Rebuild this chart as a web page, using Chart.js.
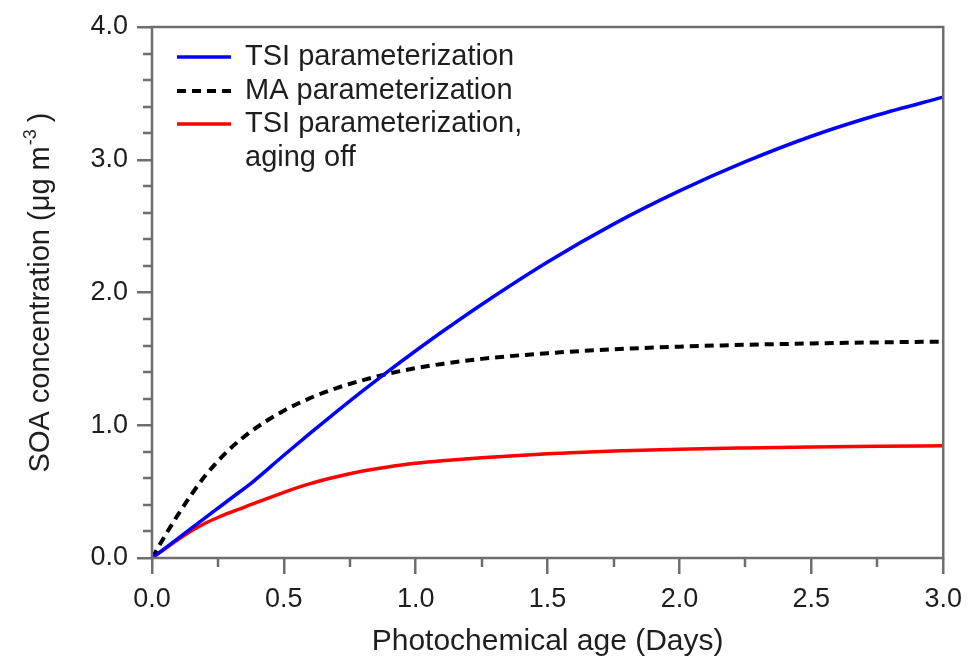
<!DOCTYPE html>
<html>
<head>
<meta charset="utf-8">
<script src="https://cdn.jsdelivr.net/npm/chart.js@4.4.1/dist/chart.umd.min.js"></script>
<style>
    html, body { margin: 0; padding: 0; background: #fff; }
    #wrap { width: 971px; height: 660px; }
</style>
</head>
<body>
<div id="wrap"><canvas id="soaChart" width="971" height="660"></canvas></div>
<script>
const days = [0, 0.05, 0.1, 0.15, 0.2, 0.25, 0.3, 0.38, 0.5, 0.6, 0.7, 0.8, 0.9, 1.0, 1.1, 1.25, 1.5, 1.75, 2.0, 2.25, 2.5, 2.75, 3.0];

// SOA concentration (ug m-3)
const tsiValues = [0, 0.075, 0.15, 0.225, 0.30, 0.375, 0.45, 0.57, 0.774, 0.94, 1.102, 1.26, 1.413, 1.561, 1.704, 1.91, 2.23, 2.515, 2.765, 2.985, 3.177, 3.337, 3.472];
const maValues = [0, 0.17, 0.33, 0.48, 0.615, 0.73, 0.83, 0.96, 1.11, 1.205, 1.28, 1.34, 1.39, 1.43, 1.462, 1.50, 1.543, 1.572, 1.592, 1.606, 1.616, 1.624, 1.63];
const tsiAgingOffValues = [0, 0.07, 0.14, 0.205, 0.26, 0.305, 0.345, 0.405, 0.495, 0.56, 0.612, 0.655, 0.688, 0.713, 0.732, 0.755, 0.785, 0.806, 0.82, 0.829, 0.836, 0.841, 0.845];

const seriesLabels = [['TSI parameterization'], ['MA parameterization'], ['TSI parameterization,', 'aging off']];

const xTickValues = [0, 0.5, 1.0, 1.5, 2.0, 2.5, 3.0];
const yTickValues = [0, 1.0, 2.0, 3.0, 4.0];
const xMinorTicks = [0.25, 0.75, 1.25, 1.75, 2.25, 2.75];
const yMinorTicks = [0.2, 0.4, 0.6, 0.8, 1.2, 1.4, 1.6, 1.8, 2.2, 2.4, 2.6, 2.8, 3.2, 3.4, 3.6, 3.8];

const xTitle = 'Photochemical age (Days)';
const yTitleMain = 'SOA concentration (\u03bcg m';
const yTitleSup = '-3';
const yTitleEnd = ' )';

const FONT = "'Liberation Sans', Arial, Helvetica, sans-serif";
const TEXT_COLOR = '#1e1e1e';
const AXIS_COLOR = '#6e6e6e';

const toPoints = (values) => days.map((d, i) => ({ x: d, y: values[i] }));

const decorPlugin = {
    id: 'decor',
    afterDraw(chart) {
        const { ctx, chartArea, scales } = chart;
        const { left, right, top, bottom } = chartArea;
        ctx.save();

        // minor ticks
        ctx.strokeStyle = AXIS_COLOR;
        ctx.lineWidth = 2.5;
        ctx.beginPath();
        xMinorTicks.forEach(v => {
            const px = Math.round(scales.x.getPixelForValue(v));
            ctx.moveTo(px, bottom);
            ctx.lineTo(px, bottom + 9);
        });
        yMinorTicks.forEach(v => {
            const py = Math.round(scales.y.getPixelForValue(v));
            ctx.moveTo(left, py);
            ctx.lineTo(left - 9, py);
        });
        ctx.stroke();

        // frame
        ctx.strokeRect(left, top, right - left, bottom - top);

        // x title
        ctx.fillStyle = TEXT_COLOR;
        ctx.font = `30px ${FONT}`;
        ctx.textAlign = 'center';
        ctx.textBaseline = 'alphabetic';
        ctx.fillText(xTitle, (left + right) / 2, 650);

        // y title with superscript
        ctx.save();
        ctx.translate(49, (top + bottom) / 2);
        ctx.rotate(-Math.PI / 2);
        ctx.textAlign = 'left';
        ctx.font = `29px ${FONT}`;
        const w1 = ctx.measureText(yTitleMain).width;
        const w3 = ctx.measureText(yTitleEnd).width;
        ctx.font = `18px ${FONT}`;
        const w2 = ctx.measureText(yTitleSup).width;
        const x0 = -(w1 + w2 + w3) / 2;
        ctx.font = `29px ${FONT}`;
        ctx.fillText(yTitleMain, x0, 0);
        ctx.font = `18px ${FONT}`;
        ctx.fillText(yTitleSup, x0 + w1 + 1, -13);
        ctx.font = `29px ${FONT}`;
        ctx.fillText(yTitleEnd, x0 + w1 + w2, 0);
        ctx.restore();

        // legend
        const rowY = [57, 91, 124];
        ctx.font = `29px ${FONT}`;
        ctx.textAlign = 'left';
        ctx.textBaseline = 'middle';
        chart.data.datasets.forEach((ds, i) => {
            const y = rowY[i];
            ctx.save();
            ctx.strokeStyle = ds.borderColor;
            ctx.lineWidth = ds.borderWidth;
            ctx.setLineDash(ds.borderDash || []);
            ctx.beginPath();
            ctx.moveTo(177, y);
            ctx.lineTo(231, y);
            ctx.stroke();
            ctx.restore();
            ctx.fillStyle = TEXT_COLOR;
            seriesLabels[i].forEach((line, j) => {
                ctx.fillText(line, 245, y + j * 34);
            });
        });

        ctx.restore();
    }
};

const ctx = document.getElementById('soaChart').getContext('2d');
new Chart(ctx, {
    type: 'line',
    data: {
        datasets: [
            {
                label: seriesLabels[0].join(' '),
                data: toPoints(tsiValues),
                borderColor: '#0000ff',
                borderWidth: 3.5,
                pointRadius: 0,
                cubicInterpolationMode: 'monotone'
            },
            {
                label: seriesLabels[1].join(' '),
                data: toPoints(maValues),
                borderColor: '#000000',
                borderWidth: 4,
                borderDash: [9, 6],
                pointRadius: 0,
                cubicInterpolationMode: 'monotone'
            },
            {
                label: seriesLabels[2].join(' '),
                data: toPoints(tsiAgingOffValues),
                borderColor: '#ff0000',
                borderWidth: 3.5,
                pointRadius: 0,
                cubicInterpolationMode: 'monotone'
            }
        ]
    },
    options: {
        responsive: false,
        devicePixelRatio: 1,
        animation: false,
        layout: {
            padding: { top: 27, right: 25, left: 0, bottom: 0 }
        },
        plugins: {
            legend: { display: false },
            tooltip: { enabled: false }
        },
        scales: {
            x: {
                type: 'linear',
                min: 0,
                max: 3,
                afterBuildTicks: (scale) => {
                    scale.ticks = xTickValues.map(v => ({ value: v }));
                },
                afterFit: (scale) => {
                    scale.height = 102;
                },
                ticks: {
                    callback: (v) => Number(v).toFixed(1),
                    color: TEXT_COLOR,
                    font: { family: FONT, size: 27 },
                    padding: 9,
                    maxRotation: 0
                },
                grid: {
                    display: true,
                    drawOnChartArea: false,
                    drawTicks: true,
                    tickLength: 16,
                    color: AXIS_COLOR,
                    lineWidth: 2.5
                },
                border: { display: false }
            },
            y: {
                type: 'linear',
                min: 0,
                max: 4,
                afterBuildTicks: (scale) => {
                    scale.ticks = yTickValues.map(v => ({ value: v }));
                },
                afterFit: (scale) => {
                    scale.width = 152;
                },
                ticks: {
                    callback: (v) => Number(v).toFixed(1),
                    color: TEXT_COLOR,
                    font: { family: FONT, size: 27 },
                    padding: 9
                },
                grid: {
                    display: true,
                    drawOnChartArea: false,
                    drawTicks: true,
                    tickLength: 15,
                    color: AXIS_COLOR,
                    lineWidth: 2.5
                },
                border: { display: false }
            }
        }
    },
    plugins: [decorPlugin]
});
</script>
</body>
</html>
